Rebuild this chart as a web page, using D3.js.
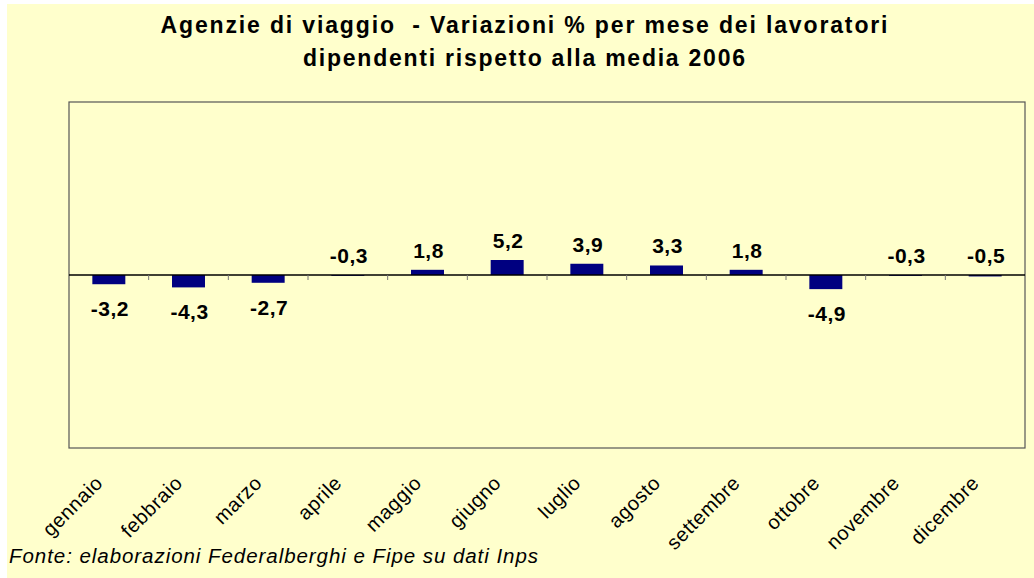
<!DOCTYPE html>
<html><head><meta charset="utf-8">
<script src="https://cdn.jsdelivr.net/npm/d3@7/dist/d3.min.js"></script>
<style>
html,body{margin:0;padding:0;background:#fff;}
svg{display:block;}
text{font-family:Arial,"Liberation Sans",sans-serif;white-space:pre;}
</style></head>
<body>
<svg id="c" width="1034" height="578"></svg>
<script>
const months = ["gennaio","febbraio","marzo","aprile","maggio","giugno","luglio","agosto","settembre","ottobre","novembre","dicembre"];
const values = [-3.2,-4.3,-2.7,-0.3,1.8,5.2,3.9,3.3,1.8,-4.9,-0.3,-0.5];
const valueLabels = ["-3,2","-4,3","-2,7","-0,3","1,8","5,2","3,9","3,3","1,8","-4,9","-0,3","-0,5"];
const yDomain = [-60, 60];
const titleLines = ["Agenzie di viaggio  - Variazioni % per mese dei lavoratori","dipendenti rispetto alla media 2006"];
const sourceNote = "Fonte: elaborazioni Federalberghi e Fipe su dati Inps";

const svg = d3.select("#c");
const W = 1034, H = 578;
const bg = "#FFFFCC";
svg.append("rect").attr("x",7).attr("y",4).attr("width",W-7).attr("height",H-4).attr("fill",bg);

const plot = {left:69, right:1025, top:102, bottom:448};
const x = d3.scaleBand().domain(months).range([plot.left, plot.right]).paddingInner(0.586).paddingOuter(0.293);
const y = d3.scaleLinear().domain(yDomain).range([plot.bottom, plot.top]);

svg.append("rect").attr("x",plot.left).attr("y",plot.top)
  .attr("width",plot.right-plot.left).attr("height",plot.bottom-plot.top)
  .attr("fill",bg).attr("stroke","#555").attr("stroke-width",1.2);

// title
const titleLens = [727, 442];
titleLines.forEach((t,i)=>{
  svg.append("text").attr("x",524).attr("y",33+i*33)
    .attr("text-anchor","middle").attr("font-weight","bold").attr("font-size",23).attr("fill","#000")
    .attr("textLength",titleLens[i]).attr("lengthAdjust","spacing")
    .text(t);
});

// bars
const data = months.map((m,i)=>({m, v:values[i], lab:valueLabels[i]}));
svg.append("g").selectAll("rect").data(data).join("rect")
  .attr("x",d=>x(d.m)).attr("width",x.bandwidth())
  .attr("y",d=>y(Math.max(0,d.v))).attr("height",d=>Math.abs(y(d.v)-y(0)))
  .attr("fill","#000080");

// zero axis
const step = x.step();
const axisG = svg.append("g");
axisG.append("line").attr("x1",plot.left).attr("x2",plot.right).attr("y1",y(0)).attr("y2",y(0))
  .attr("stroke","#000").attr("stroke-width",1.3);
const boundaries = d3.range(1, months.length).map(i=>plot.left + i*step);
axisG.selectAll("line.t").data(boundaries).join("line").attr("class","t")
  .attr("x1",d=>d).attr("x2",d=>d).attr("y1",y(0)).attr("y2",y(0)+5)
  .attr("stroke","#777").attr("stroke-width",1);

// value labels
svg.append("g").selectAll("text").data(data).join("text")
  .attr("x",d=>x(d.m)+x.bandwidth()/2+1)
  .attr("y",d=> d.v < -1 ? y(d.v)+32 : y(Math.max(0,d.v))-12)
  .attr("text-anchor","middle").attr("font-weight","bold").attr("font-size",21)
  .attr("letter-spacing","0.5px").attr("fill","#000")
  .text(d=>d.lab);

// category labels
svg.append("g").selectAll("text").data(months).join("text")
  .attr("transform",d=>`translate(${x(d)+x.bandwidth()/2-15},${plot.bottom+26}) rotate(-45)`)
  .attr("text-anchor","end").attr("dy","0.72em").attr("font-size",20)
  .attr("letter-spacing","0.6px").attr("fill","#000")
  .text(d=>d);

// source
svg.append("text").attr("x",9).attr("y",563).attr("font-style","italic").attr("font-size",20.5)
  .attr("textLength",529).attr("lengthAdjust","spacing").attr("fill","#000").text(sourceNote);
</script>
</body></html>
